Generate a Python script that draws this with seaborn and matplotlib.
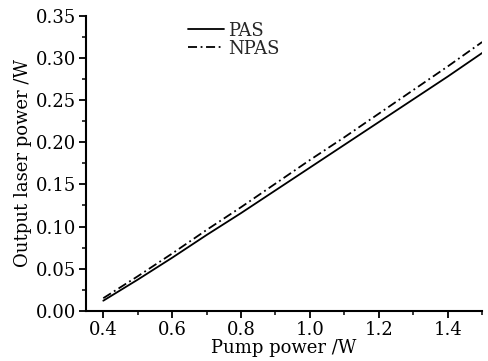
import matplotlib
matplotlib.use("Agg")
import matplotlib.pyplot as plt
import seaborn as sns
import pandas as pd
from matplotlib.ticker import MultipleLocator

pump_power = [0.4, 0.5, 0.6, 0.7, 0.8, 0.9, 1.0, 1.1, 1.2, 1.3, 1.4, 1.5]
pas = [0.012, 0.037, 0.063, 0.090, 0.116, 0.143, 0.170, 0.197, 0.224, 0.251, 0.278, 0.306]
npas = [0.015, 0.041, 0.068, 0.096, 0.123, 0.151, 0.179, 0.206, 0.234, 0.262, 0.290, 0.319]
series_names = ["PAS", "NPAS"]

df = pd.concat([
    pd.DataFrame({"x": pump_power, "y": pas, "series": series_names[0]}),
    pd.DataFrame({"x": pump_power, "y": npas, "series": series_names[1]}),
])

sns.set_theme(style="ticks")
plt.rcParams["font.family"] = ["DejaVu Serif"]
plt.rcParams["mathtext.fontset"] = "dejavuserif"

fig = plt.figure(figsize=(4.89, 3.61), dpi=100)
ax = fig.add_axes([0.176, 0.139, 0.810, 0.817])

sns.lineplot(data=df, x="x", y="y", hue="series", style="series",
             palette={"PAS": "black", "NPAS": "black"},
             dashes={"PAS": "", "NPAS": (5, 2, 1, 2)},
             linewidth=1.3, ax=ax, legend=True)

ax.set_xlim(0.35, 1.5)
ax.set_ylim(0.0, 0.35)
ax.xaxis.set_minor_locator(MultipleLocator(0.1))
ax.yaxis.set_minor_locator(MultipleLocator(0.025))
ax.set_xticks([0.4, 0.6, 0.8, 1.0, 1.2, 1.4])
ax.set_xticklabels(["0.4", "0.6", "0.8", "1.0", "1.2", "1.4"])
ax.set_yticks([0.0, 0.05, 0.10, 0.15, 0.20, 0.25, 0.30, 0.35])
ax.set_yticklabels(["0.00", "0.05", "0.10", "0.15", "0.20", "0.25", "0.30", "0.35"])

for s in ["top", "right"]:
    ax.spines[s].set_visible(False)
for s in ["left", "bottom"]:
    ax.spines[s].set_linewidth(1.5)
    ax.spines[s].set_color("black")

ax.tick_params(axis="both", which="major", direction="out", length=5, width=1.3,
               labelsize=13, colors="black", pad=2)
ax.tick_params(axis="both", which="minor", direction="out", length=3, width=1.1, colors="black")

ax.set_xlabel("Pump power /W", fontsize=13, color="black", labelpad=0)
ax.set_ylabel("Output laser power /W", fontsize=13, color="black", labelpad=3)

leg = ax.legend(title=None, loc="upper left", bbox_to_anchor=(0.24, 1.005),
                frameon=False, fontsize=13, handlelength=2.0, handletextpad=0.2,
                labelspacing=0.0, borderaxespad=0)
for h in leg.get_lines():
    h.set_linewidth(1.3)

fig.savefig("out.png", dpi=100)
